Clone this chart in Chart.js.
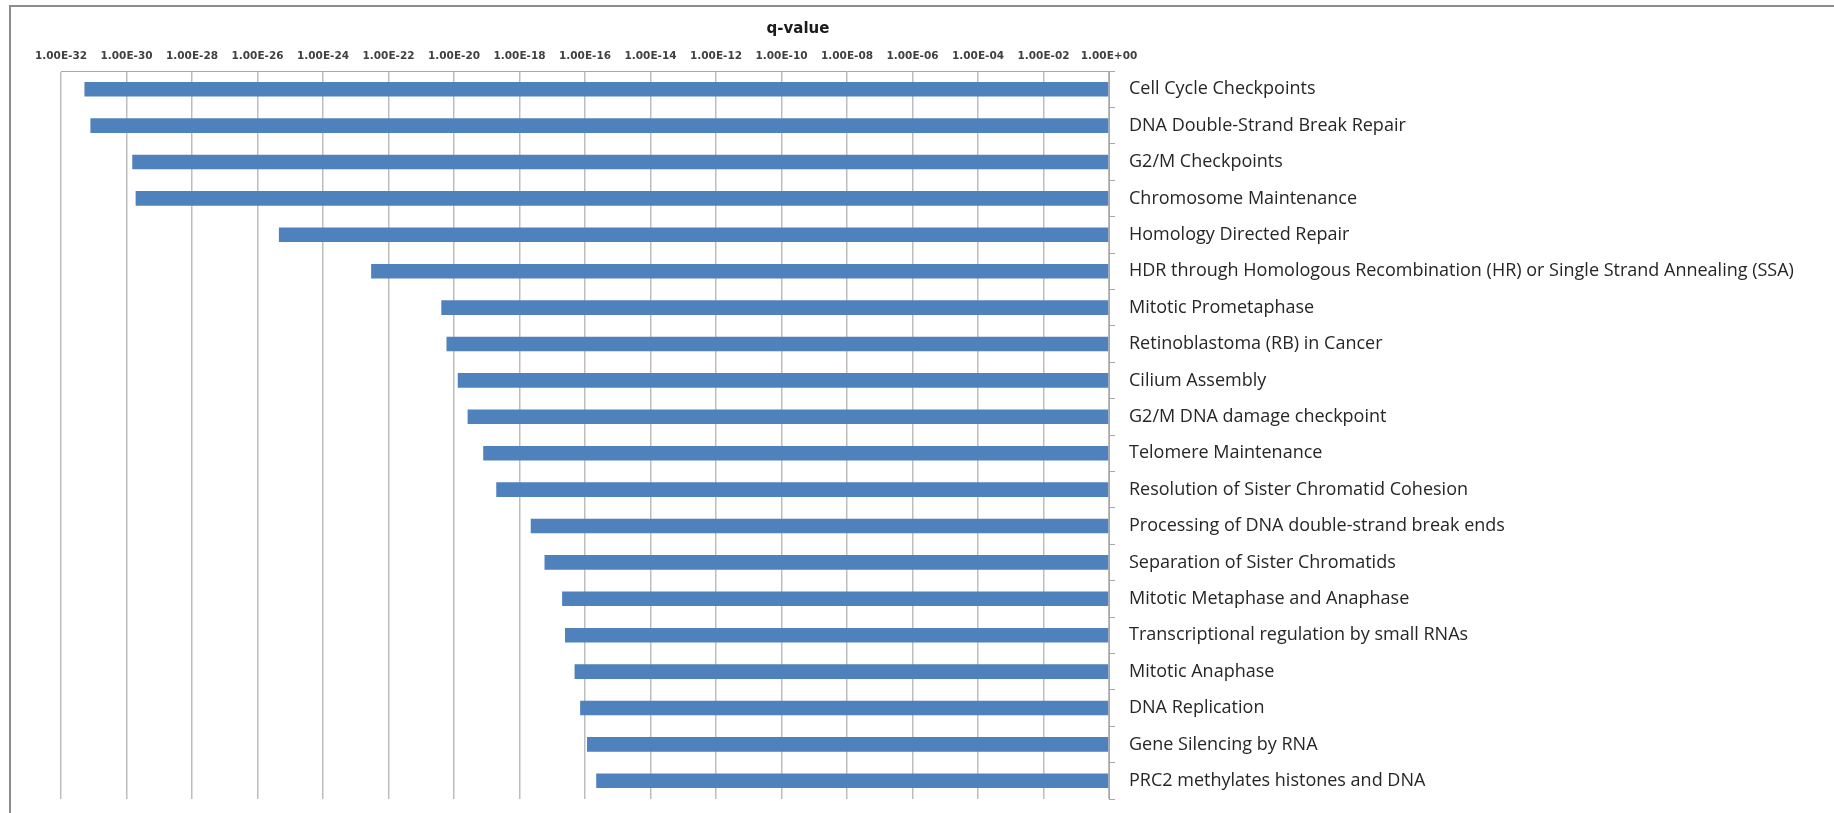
<!DOCTYPE html>
<html>
<head>
<meta charset="utf-8">
<title>q-value</title>
<script src="https://cdn.jsdelivr.net/npm/chart.js@4/dist/chart.umd.min.js"></script>
<style>
  html, body { margin: 0; padding: 0; background: #fff; overflow: hidden; }
  #wrap { position: relative; width: 1834px; height: 813px; }
  #frame {
    position: absolute; left: 9px; top: 5px; width: 2000px; height: 1000px;
    border-top: 2px solid #8c8c8c; border-left: 2px solid #8c8c8c;
    box-sizing: border-box; pointer-events: none;
  }
  canvas { position: absolute; left: 0; top: 0; }
</style>
</head>
<body>
<div id="wrap">
  <canvas id="qChart" width="1834" height="813"></canvas>
  <div id="frame"></div>
</div>
<script>
// pathways, top to bottom
const pathways = [
  'Cell Cycle Checkpoints',
  'DNA Double-Strand Break Repair',
  'G2/M Checkpoints',
  'Chromosome Maintenance',
  'Homology Directed Repair',
  'HDR through Homologous Recombination (HR) or Single Strand Annealing (SSA)',
  'Mitotic Prometaphase',
  'Retinoblastoma (RB) in Cancer',
  'Cilium Assembly',
  'G2/M DNA damage checkpoint',
  'Telomere Maintenance',
  'Resolution of Sister Chromatid Cohesion',
  'Processing of DNA double-strand break ends',
  'Separation of Sister Chromatids',
  'Mitotic Metaphase and Anaphase',
  'Transcriptional regulation by small RNAs',
  'Mitotic Anaphase',
  'DNA Replication',
  'Gene Silencing by RNA',
  'PRC2 methylates histones and DNA'
];

const qValues = [
  5.2e-32, 7.9e-32, 1.5e-30, 1.9e-30, 4.5e-26,
  2.95e-23, 4.1e-21, 5.9e-21, 1.3e-20, 2.6e-20,
  7.8e-20, 1.95e-19, 2.2e-18, 5.8e-18, 2.0e-17,
  2.45e-17, 4.8e-17, 7.1e-17, 1.15e-16, 2.2e-16
];

const tickExponents = [-32, -30, -28, -26, -24, -22, -20, -18, -16, -14, -12, -10, -8, -6, -4, -2, 0];
const tickLabels = [
  '1.00E-32', '1.00E-30', '1.00E-28', '1.00E-26', '1.00E-24', '1.00E-22',
  '1.00E-20', '1.00E-18', '1.00E-16', '1.00E-14', '1.00E-12', '1.00E-10',
  '1.00E-08', '1.00E-06', '1.00E-04', '1.00E-02', '1.00E+00'
];

// axis title sits above the tick row
const axisTitle = {
  id: 'axisTitle',
  afterDraw(chart) {
    const ctx = chart.ctx;
    ctx.save();
    ctx.font = 'bold 15px "DejaVu Sans"';
    ctx.fillStyle = '#1a1a1a';
    ctx.textAlign = 'center';
    ctx.textBaseline = 'middle';
    ctx.fillText('q-value', 798, 29);
    ctx.restore();
  }
};

new Chart(document.getElementById('qChart'), {
  type: 'bar',
  data: {
    labels: pathways,
    datasets: [{
      data: qValues,
      base: 1,
      backgroundColor: '#4f81bd',
      borderWidth: 0,
      barPercentage: 0.4,
      categoryPercentage: 1
    }]
  },
  options: {
    indexAxis: 'y',
    responsive: false,
    animation: false,
    layout: { padding: { left: 61, top: 0, right: 0, bottom: 14 } },
    plugins: {
      legend: { display: false },
      tooltip: { enabled: false }
    },
    scales: {
      x: {
        type: 'logarithmic',
        position: 'top',
        min: 1e-32,
        max: 1,
        afterBuildTicks: (scale) => {
          scale.ticks = tickExponents.map(e => ({ value: Math.pow(10, e) }));
        },
        afterFit: (scale) => {
          scale.height = 71;
          scale.paddingLeft = 0;
          scale.paddingRight = 0;
        },
        ticks: {
          autoSkip: false,
          maxRotation: 0,
          padding: 8,
          color: '#404040',
          font: { family: '"DejaVu Sans"', size: 10.5, weight: 'bold' },
          callback: (value, index) => tickLabels[index]
        },
        grid: { color: '#bdbdbd', lineWidth: 1.5, drawTicks: false },
        border: { color: '#a6a6a6', width: 1 }
      },
      y: {
        position: 'right',
        afterFit: (scale) => {
          scale.width = 725;
          scale.paddingTop = 0;
          scale.paddingBottom = 0;
        },
        ticks: {
          crossAlign: 'near',
          padding: 14,
          color: '#262626',
          font: { family: '"Open Sans"', size: 18 }
        },
        grid: { drawOnChartArea: false, drawTicks: true, tickLength: 6, color: '#a6a6a6' },
        border: { color: '#a6a6a6', width: 1 }
      }
    }
  },
  plugins: [axisTitle]
});
</script>
</body>
</html>
